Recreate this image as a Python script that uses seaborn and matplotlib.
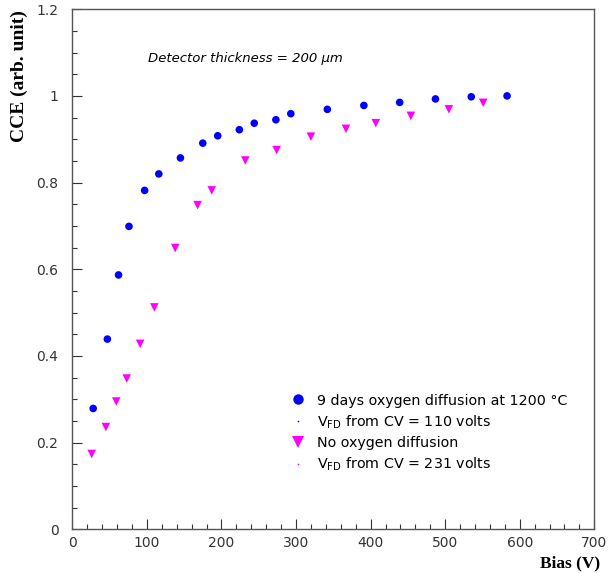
import matplotlib
matplotlib.use("Agg")
import matplotlib.pyplot as plt
from matplotlib.lines import Line2D
from matplotlib.ticker import MultipleLocator, FuncFormatter
import numpy as np
import pandas as pd
import seaborn as sns

# CCE vs bias, oxygenated detector (9 days at 1200 C)
OXY_BIAS = [28, 47, 62, 76, 97, 116, 145, 175, 195, 224, 244, 273, 293,
            342, 391, 439, 487, 535, 583]
OXY_CCE = [0.279, 0.439, 0.587, 0.699, 0.782, 0.820, 0.857, 0.891, 0.908,
           0.922, 0.937, 0.945, 0.959, 0.969, 0.978, 0.985, 0.993, 0.998, 1.0]

# CCE vs bias, standard detector (no oxygen diffusion)
STD_BIAS = [26, 45, 59, 73, 91, 110, 138, 168, 187, 232, 274, 320, 367,
            407, 454, 505, 551]
STD_CCE = [0.174, 0.236, 0.295, 0.348, 0.428, 0.512, 0.649, 0.748, 0.782,
           0.851, 0.875, 0.906, 0.924, 0.937, 0.954, 0.969, 0.984]

LEGEND_LABELS = [
    "9 days oxygen diffusion at 1200 \u00b0C",
    r"V$_{\rm FD}$ from CV = 110 volts",
    "No oxygen diffusion",
    r"V$_{\rm FD}$ from CV = 231 volts",
]

BLUE = "#0000ff"
MAGENTA = "#ff00ff"
TICK_COLOR = "#333333"

oxy = pd.DataFrame({"bias": OXY_BIAS, "cce": OXY_CCE})
std = pd.DataFrame({"bias": STD_BIAS, "cce": STD_CCE})

fig = plt.figure(figsize=(6.09, 5.73), dpi=100)
ax = fig.add_axes([72.3 / 609, 1 - 529.4 / 573, 522 / 609, 520.2 / 573])

sns.scatterplot(data=oxy, x="bias", y="cce", ax=ax, color=BLUE, marker="o",
                s=30, edgecolor="none", legend=False)
sns.scatterplot(data=std, x="bias", y="cce", ax=ax, color=MAGENTA, marker="v",
                s=38, edgecolor="none", legend=False)

ax.set_xlim(0, 700)
ax.set_ylim(0, 1.2)
ax.xaxis.set_major_locator(MultipleLocator(100))
ax.xaxis.set_minor_locator(MultipleLocator(20))
ax.yaxis.set_major_locator(MultipleLocator(0.2))
ax.yaxis.set_minor_locator(MultipleLocator(0.05))
ax.yaxis.set_major_formatter(FuncFormatter(lambda v, _: f"{v:g}"))

ax.tick_params(which="both", direction="in", top=False, right=False,
               color=TICK_COLOR, width=0.8)
ax.tick_params(which="major", length=7.5)
ax.tick_params(which="minor", length=3.8)
ax.tick_params(axis="x", which="major", pad=5, labelsize=10,
               labelcolor=TICK_COLOR)
ax.tick_params(axis="y", which="major", pad=10, labelsize=10,
               labelcolor=TICK_COLOR)
for side in ax.spines.values():
    side.set_linewidth(1.0)
    side.set_color("#555555")

serif = ["Liberation Serif", "DejaVu Serif"]
ax.set_xlabel("Bias (V)", fontsize=12.5, fontweight="bold", family=serif)
ax.xaxis.set_label_coords(1.011, -0.05)
ax.xaxis.label.set_ha("right")
ax.xaxis.label.set_va("top")
ax.set_ylabel("CCE (arb. unit)", fontsize=14, fontweight="bold",
              family=serif)
ax.yaxis.set_label_coords(-0.102, 0.9985)
ax.yaxis.label.set_ha("right")
ax.yaxis.label.set_va("center")

ax.text(101, 1.087, "Detector thickness = 200 \u03bcm", fontsize=9.5,
        style="italic", ha="left", va="center")

handles = [
    Line2D([], [], ls="none", marker="o", color=BLUE, markersize=7.5,
           markeredgewidth=0),
    Line2D([], [], ls="none", marker="o", color=BLUE, markersize=1.2,
           markeredgewidth=0),
    Line2D([], [], ls="none", marker="v", color=MAGENTA, markersize=8,
           markeredgewidth=0),
    Line2D([], [], ls="none", marker="o", color=MAGENTA, markersize=1.2,
           markeredgewidth=0),
]
ax.legend(handles, LEGEND_LABELS, loc="upper left",
          bbox_to_anchor=(291 / 609, 1 - 393.5 / 573),
          bbox_transform=fig.transFigure, frameon=False, fontsize=10.3,
          borderpad=0, borderaxespad=0, handlelength=1.0,
          handletextpad=0.82, labelspacing=0.4)

fig.savefig("out.png", dpi=100)
